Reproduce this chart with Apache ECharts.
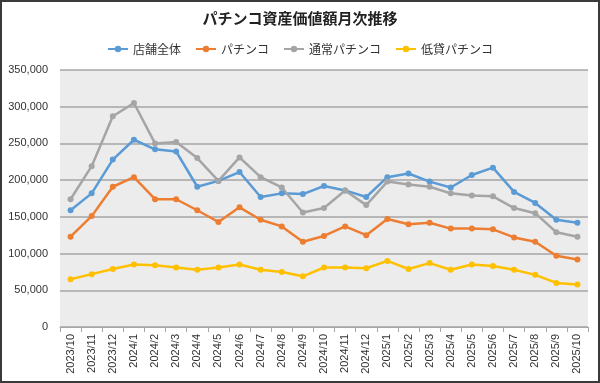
<!DOCTYPE html>
<html><head><meta charset="utf-8">
<script src="https://cdn.jsdelivr.net/npm/echarts@6/dist/echarts.min.js"></script>
<style>html,body{margin:0;padding:0;background:#fff}#c{width:600px;height:383px}</style>
</head><body><div id="c"></div>
<script>
const categories = ['2023/10','2023/11','2023/12','2024/1','2024/2','2024/3','2024/4','2024/5','2024/6','2024/7','2024/8','2024/9','2024/10','2024/11','2024/12','2025/1','2025/2','2025/3','2025/4','2025/5','2025/6','2025/7','2025/8','2025/9','2025/10'];
const storeTotal = [159000,182000,228000,255000,242000,239000,191000,199000,211000,177000,182000,181000,192000,186000,177000,204000,209000,198000,190000,207000,217000,184000,169000,146000,142000];
const pachinko = [123000,151000,191000,204000,174000,174000,159000,143000,163000,146000,137000,116000,124000,137000,125000,147000,140000,142000,134000,134000,133000,122000,116000,97000,92000];
const normalPachinko = [174000,219000,287000,305000,250000,252000,230000,199000,231000,204000,190000,156000,162000,186000,166000,198000,194000,191000,182000,179000,178000,162000,155000,129000,123000];
const lowPachinko = [65000,72000,79000,85000,84000,81000,78000,81000,85000,78000,75000,69000,81000,81000,80000,90000,79000,87000,78000,85000,83000,78000,71000,60000,58000];
const yTicks = [0,50000,100000,150000,200000,250000,300000,350000];

const font = '"Noto Sans CJK JP", "Noto Sans", sans-serif';
const chart = echarts.init(document.getElementById('c'), null, {renderer:'canvas'});
function mk(name, data, color){
  return {name, type:'line', data, symbol:'circle', symbolSize:6,
    lineStyle:{color, width:2.5}, itemStyle:{color}, z:3};
}
chart.setOption({
  animation:false,
  backgroundColor:'#fff',
  textStyle:{fontFamily:font},
  title:{text:'パチンコ資産価値額月次推移', left:'center', top:6,
    textStyle:{fontSize:15, fontWeight:'bold', color:'#222', fontFamily:font}},
  legend:{top:38, left:'center', itemWidth:20, itemHeight:8, itemGap:14,
    textStyle:{fontSize:12, color:'#333', fontFamily:font},
    data:['店舗全体','パチンコ','通常パチンコ','低貸パチンコ']},
  grid:{left:60, right:12, top:70, bottom:56, show:true, backgroundColor:'#ececec', borderWidth:0},
  xAxis:{type:'category', data:categories, boundaryGap:true,
    axisLine:{lineStyle:{color:'#a6a6a6', width:1}},
    axisTick:{show:true, alignWithLabel:false, length:5, lineStyle:{color:'#a6a6a6'}},
    axisLabel:{rotate:90, interval:0, fontSize:11, color:'#333', margin:7, fontFamily:'"Liberation Sans", sans-serif'}},
  yAxis:{type:'value', min:0, max:350000, interval:50000,
    axisLine:{show:false}, axisTick:{show:false},
    splitLine:{lineStyle:{color:'#a6a6a6', width:1.5}},
    axisLabel:{fontSize:11, color:'#333', margin:12, fontFamily:'"Liberation Sans", sans-serif',
      formatter:v=>yTicks.includes(v)?v.toLocaleString('en-US'):''}},
  graphic:[{type:'rect', shape:{x:1, y:1, width:598, height:381}, style:{fill:'none', stroke:'#3a3a3a', lineWidth:2}, z:10}],
  series:[
    mk('店舗全体', storeTotal, '#5b9bd5'),
    mk('パチンコ', pachinko, '#ed7d31'),
    mk('通常パチンコ', normalPachinko, '#a5a5a5'),
    mk('低貸パチンコ', lowPachinko, '#ffc000')
  ]
});
</script></body></html>
